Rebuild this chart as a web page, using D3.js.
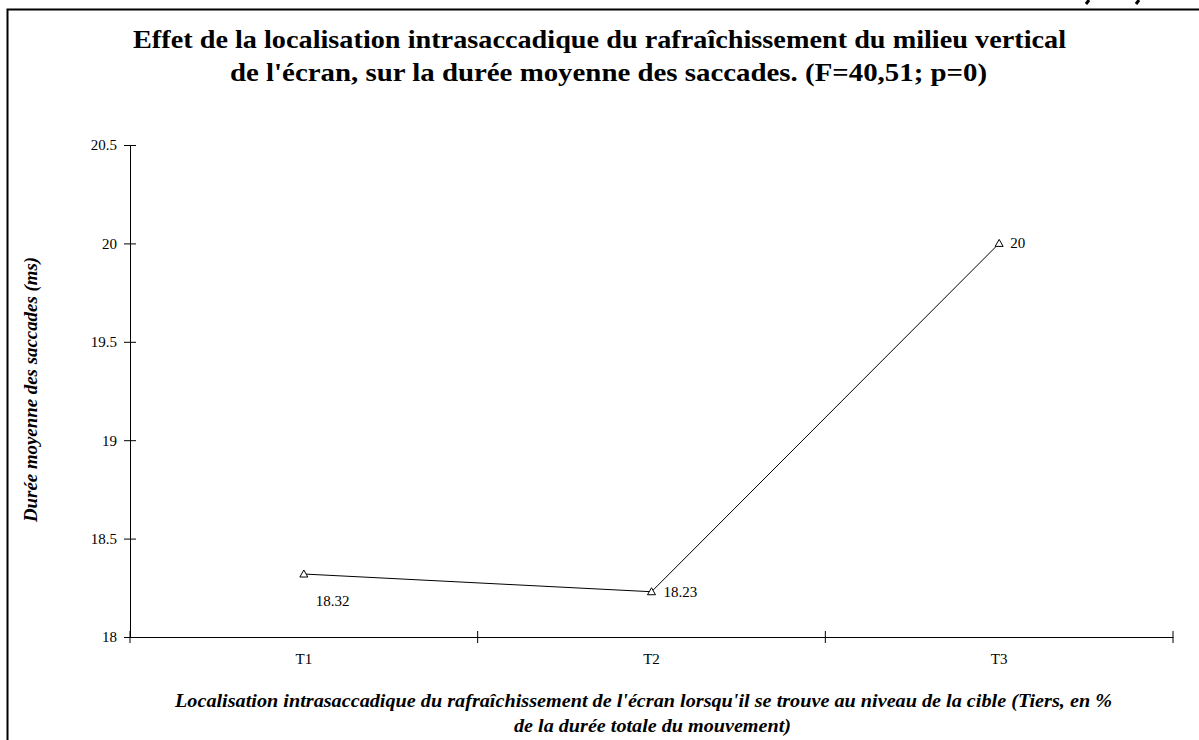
<!DOCTYPE html>
<html lang="fr">
<head>
<meta charset="UTF-8">
<title>Durée moyenne des saccades</title>
<script src="https://cdn.jsdelivr.net/npm/d3@7/dist/d3.min.js"></script>
<style>
  html, body { margin: 0; padding: 0; background: #fff; }
  svg { display: block; }
</style>
</head>
<body>
<svg id="chart" width="1199" height="740"></svg>
<script>
// donnees
const categories = ["T1", "T2", "T3"]
const durees = [18.32, 18.23, 20]
const yTicks = [18, 18.5, 19, 19.5, 20, 20.5]

const FONT = "Liberation Serif"
const svg = d3.select("#chart")
const margin = { left: 130, right: 26, top: 145, bottom: 103 }
const W = +svg.attr("width"), H = +svg.attr("height")

// cadre
svg.append("rect").attr("x", 7.5).attr("y", 9.5).attr("width", 1210).attr("height", 760)
  .attr("fill", "none").attr("stroke", "#000").attr("stroke-width", 2)

// restes de texte coupes en haut a droite
svg.selectAll(".frag").data([1086, 1136]).join("path").attr("class", "frag")
  .attr("d", d => `M${d + 3},0L${d},4`).attr("stroke", "#000").attr("stroke-width", 3)

const x = d3.scaleBand().domain(categories).range([margin.left, W - margin.right])
const y = d3.scaleLinear().domain([18, 20.5]).range([H - margin.bottom, margin.top])

// axe y
const gy = svg.append("g").attr("transform", `translate(${margin.left},0)`)
  .call(d3.axisLeft(y).tickValues(yTicks).tickFormat(d => d).tickSize(6).tickSizeOuter(0))
gy.select(".domain").attr("stroke", "#000")
gy.selectAll(".tick line").attr("x2", 6).attr("x1", -6).attr("stroke", "#000")
gy.selectAll(".tick text").attr("x", -13).attr("font-size", 15).attr("fill", "#000").style("font-family", FONT)

// axe x
const gx = svg.append("g").attr("transform", `translate(0,${H - margin.bottom})`)
  .call(d3.axisBottom(x).tickSize(0).tickSizeOuter(0))
gx.select(".domain").attr("stroke", "#000")
gx.selectAll(".tick text").attr("y", 27).attr("dy", 0).attr("font-size", 15).attr("fill", "#000").style("font-family", FONT)
// separateurs entre categories
const seps = x.domain().map(d => x(d)).concat([x.range()[1]])
gx.selectAll(".sep").data(seps).join("line").attr("class", "sep")
  .attr("x1", d => d).attr("x2", d => d).attr("y1", -6).attr("y2", 6).attr("stroke", "#000")

// ligne
const pts = categories.map((c, i) => [x(c) + x.bandwidth() / 2, y(durees[i])])
svg.append("path").attr("d", d3.line()(pts)).attr("fill", "none").attr("stroke", "#000").attr("stroke-width", 1)

// marqueurs triangles
svg.selectAll(".mk").data(pts).join("path").attr("class", "mk")
  .attr("transform", d => `translate(${d[0]},${d[1]})`)
  .attr("d", "M0,-4L4,3L-4,3Z").attr("fill", "#fff").attr("stroke", "#000").attr("stroke-width", 1)

// etiquettes des valeurs
const offs = [[12, 32], [12, 5], [11, 5]]
svg.selectAll(".lab").data(pts).join("text").attr("class", "lab")
  .attr("x", (d, i) => d[0] + offs[i][0]).attr("y", (d, i) => d[1] + offs[i][1])
  .attr("font-size", 15).style("font-family", FONT).text((d, i) => durees[i])

// titre
const title = svg.append("text").attr("font-size", 25)
  .attr("font-weight", "bold").style("font-family", FONT)
title.append("tspan").attr("x", 133).attr("y", 48).attr("textLength", 933).attr("lengthAdjust", "spacingAndGlyphs")
  .text("Effet de la localisation intrasaccadique du rafraîchissement du milieu vertical")
title.append("tspan").attr("x", 230).attr("y", 81).attr("textLength", 757).attr("lengthAdjust", "spacingAndGlyphs")
  .text("de l'écran, sur la durée moyenne des saccades. (F=40,51; p=0)")

// titre axe y
svg.append("text").attr("transform", "translate(37,522) rotate(-90)")
  .attr("font-size", 18).attr("font-weight", "bold").attr("font-style", "italic").style("font-family", FONT)
  .attr("textLength", 265).attr("lengthAdjust", "spacingAndGlyphs")
  .text("Durée moyenne des saccades (ms)")

// titre axe x
const xt = svg.append("text").attr("font-size", 18)
  .attr("font-weight", "bold").attr("font-style", "italic").style("font-family", FONT)
xt.append("tspan").attr("x", 175).attr("y", 707).attr("textLength", 937).attr("lengthAdjust", "spacingAndGlyphs")
  .text("Localisation intrasaccadique du rafraîchissement de l'écran lorsqu'il se trouve au niveau de la cible (Tiers, en %")
xt.append("tspan").attr("x", 514).attr("y", 732).attr("textLength", 277).attr("lengthAdjust", "spacingAndGlyphs")
  .text("de la durée totale du mouvement)")
</script>
</body>
</html>
